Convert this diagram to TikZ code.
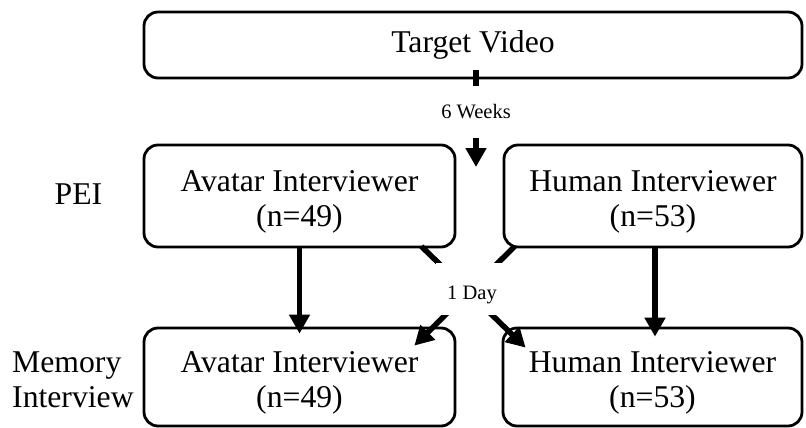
\documentclass[tikz,border=0pt]{standalone}
\usepackage{fontspec}
\setmainfont{Liberation Serif}
\usetikzlibrary{arrows.meta}
\newcommand\bigtxt{\fontsize{31.7pt}{35pt}\selectfont}
\newcommand\smalltxt{\fontsize{20.5pt}{24pt}\selectfont}
\newcommand\topstrut{\rule{0pt}{32.6pt}}
\begin{document}
\begin{tikzpicture}[x=1pt,y=-1pt,
  box/.style={draw, line width=2.8pt, rounded corners=14pt, inner sep=0pt,
              align=center, font=\bigtxt},
  flow/.style={line width=5.5pt, -{Triangle[width=20pt,length=19pt]}},
  gap/.style={fill=white, inner sep=0pt, font=\smalltxt},
  side/.style={inner sep=0pt, font=\bigtxt}]
\useasboundingbox (0,0) rectangle (806,428);

% boxes
\node[box, minimum width=658pt, minimum height=66pt] (tv) at (473,45) {Target Video};
\node[box, minimum width=311pt, minimum height=102pt] (avp) at (299.5,196)
  {\topstrut Avatar Interviewer\\(n=49)};
\node[box, minimum width=298pt, minimum height=102pt] (hup) at (653,196)
  {\topstrut Human Interviewer\\(n=53)};
\node[box, minimum width=311pt, minimum height=98pt] (avm) at (299.5,377)
  {\topstrut Avatar Interviewer\\(n=49)};
\node[box, minimum width=299pt, minimum height=98pt] (hum) at (652.5,377)
  {\topstrut Human Interviewer\\(n=53)};

% row labels
\node[side] (pei) at (78.5,194.5) {PEI};
\node[side, align=left, anchor=west] (mem) at (12,380) {Memory\\Interview};

% connectors
\coordinate (split) at (476,167);
\draw[flow] ([xshift=3pt,yshift=9pt]tv.south) -- (split);
\draw[flow] (avp.south) -- ([yshift=-7pt]avm.north);
\draw[flow] ([xshift=2pt]hup.south) -- ([xshift=2.5pt,yshift=-10pt]hum.north);
\draw[flow] ([xshift=-35pt,yshift=2pt]avp.south east) -- ([xshift=24pt,yshift=-21pt]hum.north west);
\draw[flow] ([xshift=12pt,yshift=2pt]hup.south west) -- ([xshift=-42pt,yshift=-19pt]avm.north east);

% delay labels over the connectors
\node[gap, minimum width=80pt, minimum height=51pt] (weeks) at (476,112) {6 Weeks};
\node[gap, minimum width=72pt, minimum height=52pt, text height=20pt, text depth=0pt]
  (day) at (472,289) {1 Day};
\end{tikzpicture}
\end{document}
